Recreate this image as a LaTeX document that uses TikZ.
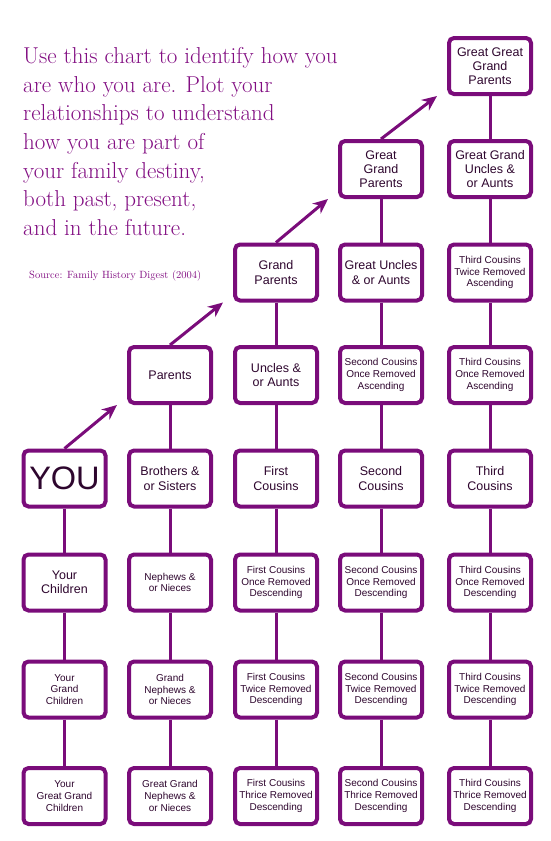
\documentclass[tikz,border=0pt]{standalone}
\usepackage{xcolor}
\usepackage{fontspec}
\setsansfont{Liberation Sans}
\usepackage{tikz}
\usetikzlibrary{arrows.meta}
\usetikzlibrary{positioning}

\definecolor{chartpurple}{HTML}{7A0C7A}
\definecolor{intropurple}{HTML}{820E82}
\definecolor{boxtext}{HTML}{2E062E}

\begin{document}
\begin{tikzpicture}[
    x=1pt, y=-1pt,
    rel_box/.style={draw=chartpurple, line width=4pt, rounded corners=5pt, fill=white,
      minimum width=82pt, minimum height=56pt, inner sep=1pt, align=center, text=boxtext},
    big_txt/.style={font=\sffamily\fontsize{12.5}{14.3}\selectfont},
    small_txt/.style={font=\sffamily\fontsize{10}{11.7}\selectfont},
    you_txt/.style={font=\sffamily\fontsize{32.5}{36}\selectfont},
    link_style/.style={chartpurple, line width=3pt},
    up_arrow/.style={chartpurple, line width=3pt, -{Stealth[length=15pt, width=13pt]}},
    intro_style/.style={text=intropurple, align=left, inner sep=0pt,
      font=\fontsize{23}{28.7}\selectfont},
    source_style/.style={text=intropurple, inner sep=0pt, font=\fontsize{10.5}{12}\selectfont}
  ]
  \useasboundingbox (0,0) rectangle (550,841);

  % 1. Intro text
  \node[intro_style, anchor=north west] (intro) at (23,47) {Use this chart to identify how you\\
    are who you are. Plot your\\ relationships to understand\\ how you are part of\\
    your family destiny,\\ both past, present,\\ and in the future.};
  \node[source_style, anchor=base west] (source) at (29,278) {Source: Family History Digest (2004)};

  % 2. Column 1: you and descendants
  \node[rel_box, you_txt] (you) at (64.5,478.5) {YOU};
  \node[rel_box, big_txt] (children) at (64.5,582.5) {Your\\Children};
  \node[rel_box, small_txt] (grand_children) at (64.5,689.5) {Your\\Grand\\Children};
  \node[rel_box, small_txt] (great_grand_children) at (64.5,796) {Your\\Great Grand\\Children};

  % 3. Column 2: parents, siblings, nephews
  \node[rel_box, big_txt] (parents) at (170,375) {Parents};
  \node[rel_box, big_txt] (siblings) at (170,478.5) {Brothers \&\\or Sisters};
  \node[rel_box, small_txt] (nephews) at (170,582.5) {Nephews \&\\or Nieces};
  \node[rel_box, small_txt] (grand_nephews) at (170,689.5) {Grand\\Nephews \&\\or Nieces};
  \node[rel_box, small_txt] (great_grand_nephews) at (170,796) {Great Grand\\Nephews \&\\or Nieces};

  % 4. Column 3: grand parents, uncles, first cousins
  \node[rel_box, big_txt] (grand_parents) at (276,272.5) {Grand\\Parents};
  \node[rel_box, big_txt] (uncles) at (276,375) {Uncles \&\\or Aunts};
  \node[rel_box, big_txt] (first_cousins) at (276,478.5) {First\\Cousins};
  \node[rel_box, small_txt] (first_once) at (276,582.5) {First Cousins\\Once Removed\\Descending};
  \node[rel_box, small_txt] (first_twice) at (276,689.5) {First Cousins\\Twice Removed\\Descending};
  \node[rel_box, small_txt] (first_thrice) at (276,796) {First Cousins\\Thrice Removed\\Descending};

  % 5. Column 4: great grand parents, second cousins
  \node[rel_box, big_txt] (great_grand_parents) at (381,169) {Great\\Grand\\Parents};
  \node[rel_box, big_txt] (great_uncles) at (381,272.5) {Great Uncles\\\& or Aunts};
  \node[rel_box, small_txt] (second_once_asc) at (381,375) {Second Cousins\\Once Removed\\Ascending};
  \node[rel_box, big_txt] (second_cousins) at (381,478.5) {Second\\Cousins};
  \node[rel_box, small_txt] (second_once) at (381,582.5) {Second Cousins\\Once Removed\\Descending};
  \node[rel_box, small_txt] (second_twice) at (381,689.5) {Second Cousins\\Twice Removed\\Descending};
  \node[rel_box, small_txt] (second_thrice) at (381,796) {Second Cousins\\Thrice Removed\\Descending};

  % 6. Column 5: great great grand parents, third cousins
  \node[rel_box, big_txt] (gg_parents) at (490,66) {Great Great\\Grand\\Parents};
  \node[rel_box, big_txt] (gg_uncles) at (490,169) {Great Grand\\Uncles \&\\or Aunts};
  \node[rel_box, small_txt] (third_twice_asc) at (490,272.5) {Third Cousins\\Twice Removed\\Ascending};
  \node[rel_box, small_txt] (third_once_asc) at (490,375) {Third Cousins\\Once Removed\\Ascending};
  \node[rel_box, big_txt] (third_cousins) at (490,478.5) {Third\\Cousins};
  \node[rel_box, small_txt] (third_once) at (490,582.5) {Third Cousins\\Once Removed\\Descending};
  \node[rel_box, small_txt] (third_twice) at (490,689.5) {Third Cousins\\Twice Removed\\Descending};
  \node[rel_box, small_txt] (third_thrice) at (490,796) {Third Cousins\\Thrice Removed\\Descending};

  % 7. Vertical links in each column
  \foreach \a/\b in {you/children, children/grand_children, grand_children/great_grand_children,
      parents/siblings, siblings/nephews, nephews/grand_nephews, grand_nephews/great_grand_nephews,
      grand_parents/uncles, uncles/first_cousins, first_cousins/first_once,
      first_once/first_twice, first_twice/first_thrice,
      great_grand_parents/great_uncles, great_uncles/second_once_asc,
      second_once_asc/second_cousins, second_cousins/second_once,
      second_once/second_twice, second_twice/second_thrice,
      gg_parents/gg_uncles, gg_uncles/third_twice_asc, third_twice_asc/third_once_asc,
      third_once_asc/third_cousins, third_cousins/third_once,
      third_once/third_twice, third_twice/third_thrice} {
    \draw[link_style] (\a) -- (\b);
  }

  % 8. Arrows up to the next generation
  \coordinate[left=10pt of parents.south west] (tip_parents);
  \coordinate[left=10pt of grand_parents.south west] (tip_grand);
  \coordinate[left=10pt of great_grand_parents.south west] (tip_great);
  \coordinate[left=10pt of gg_parents.south west] (tip_gg);
  \draw[up_arrow] (you.north) -- (tip_parents);
  \draw[up_arrow] (parents.north) -- (tip_grand);
  \draw[up_arrow] (grand_parents.north) -- (tip_great);
  \draw[up_arrow] (great_grand_parents.north) -- (tip_gg);

\end{tikzpicture}
\end{document}
